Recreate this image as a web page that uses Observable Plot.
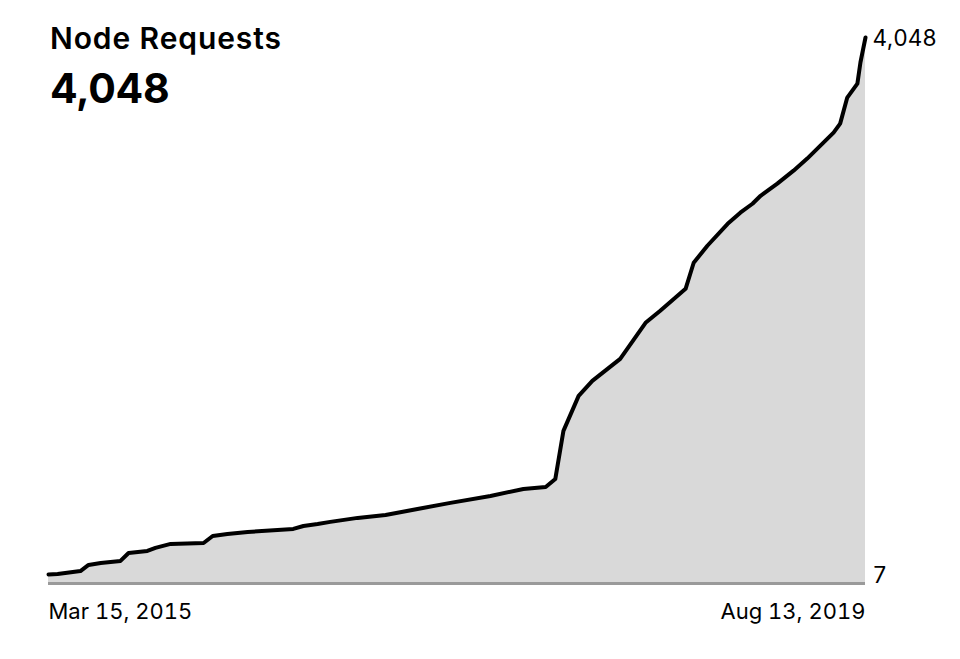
<!DOCTYPE html>
<html>
<head>
<meta charset="utf-8">
<script src="https://cdn.jsdelivr.net/npm/d3@7"></script>
<script src="https://cdn.jsdelivr.net/npm/@observablehq/plot@0.6"></script>
<style>
  html, body { margin: 0; padding: 0; background: #fff; }
  #wrap { position: relative; width: 960px; height: 659px; font-family: Inter, "Noto Sans", sans-serif; }
  #title { position: absolute; left: 50px; top: 20px; font-size: 30px; font-weight: 600; color: #000; letter-spacing: 0.9px; }
  #value { position: absolute; left: 50px; top: 63px; font-size: 41px; font-weight: 700; color: #000; letter-spacing: -0.3px; }
</style>
</head>
<body>
<div id="wrap">
  <div id="chart"></div>
  <div id="title">Node Requests</div>
  <div id="value">4,048</div>
</div>
<script>
const dates = ["2015-03-15","2015-04-02","2015-05-17","2015-06-02","2015-06-26","2015-08-04","2015-08-20","2015-09-26","2015-10-12","2015-11-11",
  "2016-01-15","2016-02-02","2016-03-02","2016-04-11","2016-07-10","2016-07-30","2016-08-27","2016-09-21","2016-11-14",
  "2017-01-08","2017-03-12","2017-05-16","2017-08-03","2017-10-07","2017-11-20","2017-12-09","2017-12-25",
  "2018-01-24","2018-02-20","2018-04-16","2018-06-05","2018-07-04","2018-08-23","2018-09-08","2018-10-05","2018-11-14","2018-12-09",
  "2019-01-02","2019-01-18","2019-02-20","2019-03-24","2019-04-20","2019-05-16","2019-06-11","2019-06-24","2019-07-08","2019-07-28","2019-08-03","2019-08-13"];
const requests = [7,11,33,79,94,109,169,184,207,237,
  244,297,312,327,350,372,387,403,433,
  455,500,546,598,651,666,726,1088,
  1351,1464,1630,1901,1992,2157,2353,2481,2646,2730,
  2797,2857,2948,3046,3137,3234,3332,3400,3596,3701,3860,4048];
const yTicks = [7, 4048];
const xTickStart = "2015-03-15";
const xTickEnd = "2019-08-13";

const data = dates.map((d, i) => ({date: new Date(d + "T00:00:00"), value: requests[i]}));
const fmtDateLocal = d3.timeFormat("%b %-d, %Y");

// y scale pixel range and frame bottom (layout)
const H = 659, marginBottom = 76, yTopPx = 37, yMinPx = 574;
const frameBottom = H - marginBottom;
const yBase = yTicks[0] - (frameBottom - yMinPx) * (yTicks[1] - yTicks[0]) / (yMinPx - yTopPx);

const chart = Plot.plot({
  width: 960,
  height: H,
  marginLeft: 48,
  marginRight: 95,
  marginTop: yTopPx,
  marginBottom: marginBottom,
  style: {fontFamily: "Inter, 'Noto Sans', sans-serif", fontSize: "22px", color: "#000", background: "#fff"},
  x: {type: "time", domain: [new Date(xTickStart + "T00:00:00"), new Date(xTickEnd + "T00:00:00")]},
  y: {domain: yTicks, range: [yMinPx, yTopPx]},
  marks: [
    Plot.areaY(data, {x: "date", y1: yBase, y2: "value", fill: "#d9d9d9"}),
    Plot.ruleY([yBase], {stroke: "#9a9a9a", strokeWidth: 3}),
    Plot.lineY(data, {x: "date", y: "value", stroke: "#000", strokeWidth: 4, strokeLinejoin: "round", strokeLinecap: "round"}),
    Plot.axisY({anchor: "right", ticks: yTicks, tickSize: 0, tickPadding: 7, dy: 1, tickFormat: d3.format(","), fontSize: 22.5, fill: "#000", label: null}),
    Plot.axisX({ticks: [new Date(xTickStart + "T00:00:00")], tickSize: 0, tickPadding: 20, textAnchor: "start", tickFormat: fmtDateLocal, fontSize: 22, fill: "#000", label: null}),
    Plot.axisX({ticks: [new Date(xTickEnd + "T00:00:00")], tickSize: 0, tickPadding: 20, textAnchor: "end", tickFormat: fmtDateLocal, fontSize: 22, fill: "#000", label: null})
  ]
});
document.getElementById("chart").appendChild(chart);
</script>
</body>
</html>
